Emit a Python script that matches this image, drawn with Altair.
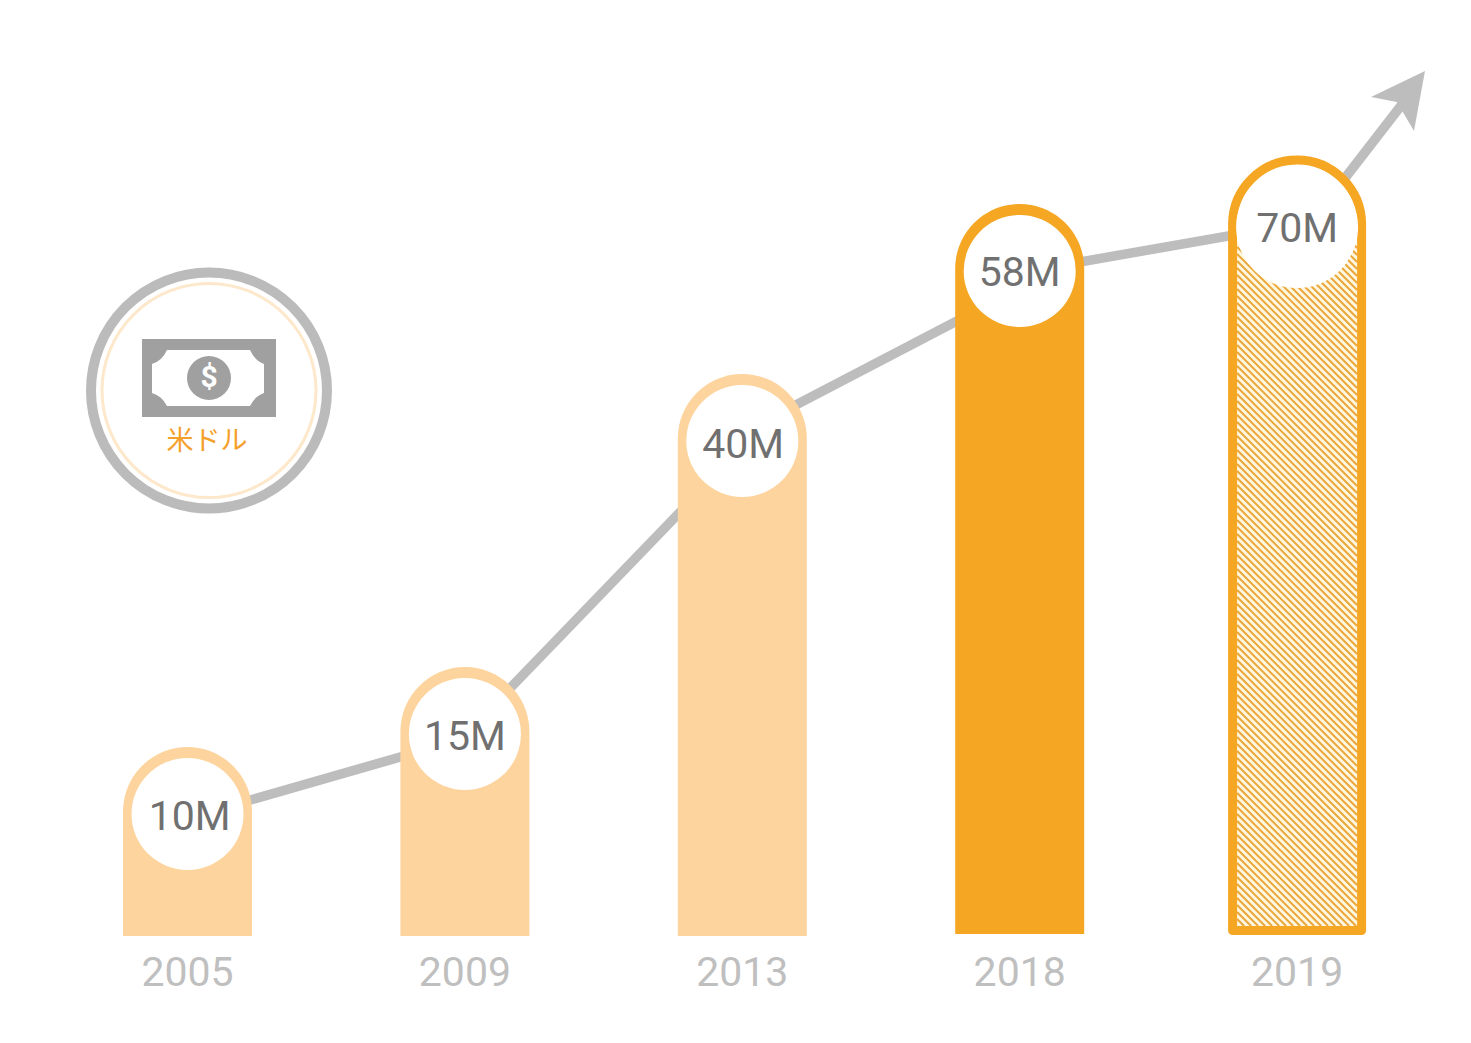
import altair as alt
import pandas as pd

# ---- values ----
years = ["2005", "2009", "2013", "2018", "2019"]
labels = ["10M", "15M", "40M", "58M", "70M"]
slots = [0, 1, 2, 3, 4]
bar_top = [189, 269, 562, 732, 781]        # drawn height above the baseline
bar_base = [0, 0, 0, 2, 0]
bar_kind = ["past", "past", "past", "now", "forecast"]
circle_h = [122, 202, 495, 665, 709]
label_h = [106, 186, 478, 650, 694]
label_slot = [0.008, 1.0, 2.003, 3.0, 4.0]
year_h = [-50, -50, -50, -50, -50]

# trend line pieces (slot, height) -> (slot, height); hidden ends sit behind bars
trend_x = [0, 1, 2, 3, 4]
trend_x2 = [1, 2, 3, 4, 4.382]
trend_y = [118, 201, 503, 663.5, 696]
trend_y2 = [197.5, 488.4, 647.7, 712, 833]
arrow_slot = [4.461]
arrow_h = [865]

forecast_top = 776
forecast_base = 5.5
hatch_top_h = 693
hatch_bottom_h = 10
hatch_half = 60
hatch_step = 7

icon_slot = 0.0775
ring_h = 545.5
note_h = 558
unit_text = "米ドル"
unit_h = 494

# ---- scales: slots on x, drawn height on y ----
SLOT = 277.4
X0 = 187.5
BASE = 936
W, H = 1455, 1027
x_scale = alt.Scale(domain=[(8 - X0) / SLOT, (8 + W - X0) / SLOT], nice=False, zero=False, padding=0)
y_scale = alt.Scale(domain=[BASE - 8 - H, BASE - 8], nice=False, zero=False, padding=0)
X = lambda f="x": alt.X(f"{f}:Q", scale=x_scale, axis=None)
Y = lambda f="y": alt.Y(f"{f}:Q", scale=y_scale, axis=None)

LIGHT, ORANGE, GREY = "#fdd49d", "#f5a623", "#bdbdbd"

bars = pd.DataFrame(dict(x=slots, top=bar_top, base=bar_base, kind=bar_kind))
texts = pd.DataFrame(dict(x=label_slot, y=label_h, t=labels))
yrs = pd.DataFrame(dict(x=slots, y=year_h, t=years))
circ = pd.DataFrame(dict(x=slots, y=circle_h, s=[112**2] * 4 + [122**2]))
trend = pd.DataFrame(dict(x=trend_x, x2=trend_x2, y=trend_y, y2=trend_y2))

# hatch pattern of the forecast bar, cut to its inner rectangle
# each stripe: height = c - px, running down to the right
hatch = []
left, right = -hatch_half, hatch_half
c = hatch_bottom_h + left
while c - right <= hatch_top_h:
    x_a = max(left, c - hatch_top_h)
    x_b = min(right, c - hatch_bottom_h)
    if x_a < x_b:
        hatch.append(dict(x=4 + x_a / SLOT, x2=4 + x_b / SLOT, y=c - x_a, y2=c - x_b))
    c += hatch_step
hatch = pd.DataFrame(hatch)

base = alt.Chart(bars)
layers = []

layers.append(alt.Chart(trend).mark_rule(color=GREY, strokeWidth=9.5).encode(
    x=X(), x2="x2:Q", y=Y(), y2="y2:Q"))
layers.append(alt.Chart(pd.DataFrame(dict(x=arrow_slot, y=arrow_h))).mark_point(
    shape="M0,0 L-54,26 L-28,31 L-11,60 Z", size=4, filled=True, fill=GREY, opacity=1, strokeWidth=0
).encode(x=X(), y=Y()))

R = 64.5
layers.append(base.transform_filter("datum.kind=='past'").mark_bar(
    size=129, orient="vertical", color=LIGHT, cornerRadiusTopLeft=R, cornerRadiusTopRight=R
).encode(x=X(), y=Y("top"), y2="base:Q"))
layers.append(base.transform_filter("datum.kind=='now'").mark_bar(
    size=129, orient="vertical", color=ORANGE, cornerRadiusTopLeft=R, cornerRadiusTopRight=R
).encode(x=X(), y=Y("top"), y2="base:Q"))

fc = pd.DataFrame(dict(x=[4], top=[forecast_top], base=[forecast_base]))
layers.append(alt.Chart(fc).mark_bar(
    size=129, orient="vertical", color="white", cornerRadiusTopLeft=R, cornerRadiusTopRight=R
).encode(x=X(), y=Y("top"), y2="base:Q"))
layers.append(alt.Chart(pd.DataFrame(dict(x=[4], top=[hatch_top_h], base=[hatch_bottom_h]))).mark_bar(
    size=120, orient="vertical", color="#fff7e0"
).encode(x=X(), y=Y("top"), y2="base:Q"))
layers.append(alt.Chart(hatch).mark_rule(color="#eca73a", strokeWidth=2).encode(
    x=X(), x2="x2:Q", y=Y(), y2="y2:Q"))
layers.append(alt.Chart(fc).mark_bar(
    size=129, orient="vertical", fill="white", fillOpacity=0, stroke=ORANGE, strokeWidth=9,
    strokeJoin="round", cornerRadiusTopLeft=R, cornerRadiusTopRight=R
).encode(x=X(), y=Y("top"), y2="base:Q"))

layers.append(alt.Chart(circ).mark_circle(color="white", opacity=1).encode(
    x=X(), y=Y(), size=alt.Size("s:Q", scale=None, legend=None)))
layers.append(alt.Chart(texts).mark_text(
    font="Roboto", fontSize=41, color="#707070", align="center", baseline="alphabetic"
).encode(x=X(), y=Y(), text="t:N"))
layers.append(alt.Chart(yrs).mark_text(
    font="Roboto", fontSize=41, color="#bfbfbf", align="center", baseline="alphabetic"
).encode(x=X(), y=Y(), text="t:N"))

# unit badge
ring = pd.DataFrame(dict(x=[icon_slot], y=[ring_h]))
layers.append(alt.Chart(ring).mark_point(
    filled=False, shape="circle", size=236**2, stroke="#bbbbbb", strokeWidth=10, opacity=1
).encode(x=X(), y=Y()))
layers.append(alt.Chart(ring).mark_point(
    filled=False, shape="circle", size=214**2, stroke="#fde8cb", strokeWidth=3, opacity=1
).encode(x=X(), y=Y()))
note = pd.DataFrame(dict(x=[icon_slot], y=[note_h]))
layers.append(alt.Chart(note).mark_point(
    shape="M-67,-39 L67,-39 L67,39 L-67,39 Z", size=4, filled=True, fill="#a0a0a0", opacity=1, strokeWidth=0
).encode(x=X(), y=Y()))
layers.append(alt.Chart(note).mark_point(
    shape="M-42,-28 L41,-28 Q46,-17 55,-14 L55,15 Q46,18 41,28 L-42,28 Q-47,18 -57,15 L-57,-14 Q-47,-17 -42,-28 Z",
    size=4, filled=True, fill="white", opacity=1, strokeWidth=0
).encode(x=X(), y=Y()))
layers.append(alt.Chart(note).mark_circle(color="#a0a0a0", size=44**2, opacity=1).encode(x=X(), y=Y()))
layers.append(alt.Chart(note.assign(t="$")).mark_text(
    font="Roboto", fontSize=30, fontWeight="bold", color="white", align="center", baseline="middle"
).encode(x=X(), y=Y(), text="t:N"))
layers.append(alt.Chart(pd.DataFrame(dict(x=[icon_slot - 0.007], y=[unit_h], t=[unit_text]))).mark_text(
    font="Noto Sans CJK JP", fontSize=27, color="#f5a02a", align="center", baseline="middle"
).encode(x=X(), y=Y(), text="t:N"))

chart = alt.layer(*layers).properties(
    width=W, height=H, padding=0, autosize=alt.AutoSizeParams(type="none"), background="white"
).configure_view(stroke=None)

chart.save("out.html", embed_options={"renderer": "svg", "actions": False})
